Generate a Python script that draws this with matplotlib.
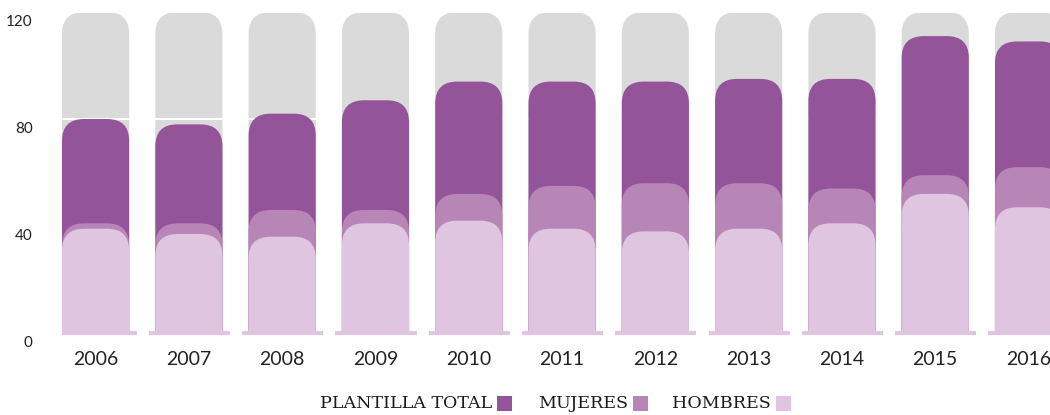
import matplotlib
matplotlib.use("Agg")
import matplotlib.pyplot as plt
from matplotlib.patches import FancyBboxPatch, Rectangle
import matplotlib.transforms as mtransforms

years = ['2006', '2007', '2008', '2009', '2010', '2011', '2012', '2013', '2014', '2015', '2016']
plantilla_total = [80, 78, 82, 87, 94, 94, 94, 95, 95, 111, 109]
mujeres = [41, 41, 46, 46, 52, 55, 56, 56, 54, 59, 62]
hombres = [39, 37, 36, 41, 42, 39, 38, 39, 41, 52, 47]
fondo = [120] * len(years)

C_GRIS = '#dadada'
C_TOTAL = '#93549a'
C_MUJ = '#b786b7'
C_HOM = '#dfc5df'

W, H = 1050, 415
fig = plt.figure(figsize=(W / 100, H / 100), dpi=100)
# axes placed in pixels: left 62, bottom 333 (from top), top 4
ax = fig.add_axes([62 / W, (H - 333) / H, (W - 62) / W, (333 - 4) / H])
xmin, xmax = -0.36, 10.23
ax.set_xlim(xmin, xmax)
ax.set_ylim(0, 123)

px_x = (W - 62) / (xmax - xmin)       # pixels per x unit
px_y = (333 - 4) / 123                 # pixels per y unit
aspect = px_x / px_y
radio = 22 / px_x


def rounded_bars(values, color, z):
    bars = ax.bar(range(len(values)), [v + 10 for v in values], bottom=-10,
                  width=0.72, color=color, zorder=z)
    for b in bars:
        x, y = b.get_x(), b.get_y()
        w, h = b.get_width(), b.get_height()
        b.remove()
        p = FancyBboxPatch((x, y), w, h,
                           boxstyle=f"round,pad=0,rounding_size={radio}",
                           mutation_aspect=aspect, fc=color, ec='none', zorder=z)
        ax.add_patch(p)


rounded_bars(fondo, C_GRIS, 1)
for yv in [40, 80, 120]:
    ax.axhline(yv, color='white', lw=1.5, zorder=1.5)
rounded_bars(plantilla_total, C_TOTAL, 2)
rounded_bars(mujeres, C_MUJ, 3)
rounded_bars(hombres, C_HOM, 4)

# baseline segments under each year
for i in range(len(years)):
    ax.plot([max(i - 0.43, xmin), i + 0.44], [0, 0], color=C_HOM, lw=3, zorder=5,
            solid_capstyle='butt', clip_on=False)

for s in ax.spines.values():
    s.set_visible(False)

ax.set_xticks(range(len(years)))
ax.set_xticklabels(years, fontfamily='Lato', fontsize=14, color='#222222')
ax.set_yticks([0, 40, 80, 120])
ax.set_yticklabels(['0', '40', '80', '120'], fontfamily='Lato', fontsize=11, color='#222222')
ax.tick_params(axis='x', length=0, pad=13)
ax.tick_params(axis='y', length=0, pad=21)
off = mtransforms.ScaledTranslation(0, -6 / 72, fig.dpi_scale_trans)
for lab in ax.get_yticklabels():
    lab.set_transform(lab.get_transform() + off)

# legend, text first then square
ley = [('PLANTILLA TOTAL', C_TOTAL, 492), ('MUJERES', C_MUJ, 628), ('HOMBRES', C_HOM, 771)]
for txt, col, xr in ley:
    fig.text(xr / W, (H - 403) / H, txt, ha='right', va='center',
             fontfamily='DejaVu Serif', fontsize=12.6, color='#1a1a1a')
    fig.add_artist(Rectangle(((xr + 5) / W, (H - 411) / H), 15 / W, 15 / H,
                             transform=fig.transFigure, fc=col, ec='none'))

fig.savefig('out.png', dpi=100)
